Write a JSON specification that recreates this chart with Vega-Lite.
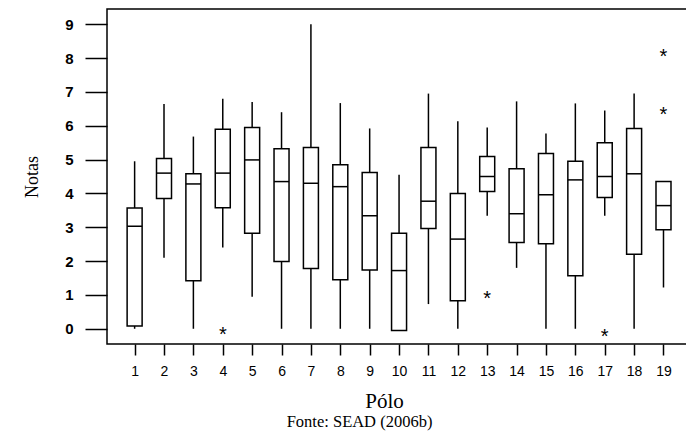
{
  "$schema": "https://vega.github.io/schema/vega-lite/v6.json",
  "width": 585,
  "height": 335,
  "autosize": {"type": "none"},
  "padding": {"left": 107, "top": 9, "right": 0, "bottom": 90},
  "background": "white",
  "config": {
    "view": {"stroke": "black", "strokeWidth": 1.5},
    "axis": {"domain": false, "grid": false, "labelOverlap": false, "labelFlush": false, "tickWidth": 1.5, "tickColor": "black", "labelColor": "black", "titleColor": "black", "labelFont": "Liberation Sans", "titleFont": "Liberation Serif", "titleFontWeight": "normal"},
    "axisX": {"tickSize": 11, "labelPadding": 9, "labelFontSize": 14, "titleFontSize": 21, "titlePadding": 12, "titleX": 277},
    "axisY": {"tickSize": 22, "labelPadding": 12, "labelFontSize": 15, "labelFontWeight": "bold", "titleFontSize": 18, "titlePadding": 23}
  },
  "title": {
    "text": "Fonte: SEAD (2006b)",
    "orient": "bottom",
    "font": "Liberation Serif",
    "fontSize": 16.5,
    "fontWeight": "normal",
    "color": "black",
    "anchor": "start",
    "dx": 263,
    "offset": 3
  },
  "datasets": {
    "boxes": [
      {"polo": 1, "min": 0, "q1": 0.08, "median": 3.03, "q3": 3.57, "max": 4.95},
      {"polo": 2, "min": 2.1, "q1": 3.85, "median": 4.6, "q3": 5.03, "max": 6.64},
      {"polo": 3, "min": 0, "q1": 1.42, "median": 4.28, "q3": 4.58, "max": 5.68},
      {"polo": 4, "min": 2.4, "q1": 3.58, "median": 4.6, "q3": 5.9, "max": 6.8},
      {"polo": 5, "min": 0.95, "q1": 2.82, "median": 4.99, "q3": 5.95, "max": 6.7},
      {"polo": 6, "min": 0, "q1": 1.99, "median": 4.35, "q3": 5.32, "max": 6.4},
      {"polo": 7, "min": 0, "q1": 1.78, "median": 4.3, "q3": 5.36, "max": 9.0},
      {"polo": 8, "min": 0, "q1": 1.45, "median": 4.2, "q3": 4.85, "max": 6.67},
      {"polo": 9, "min": 0, "q1": 1.74, "median": 3.34, "q3": 4.62, "max": 5.92},
      {"polo": 10, "min": -0.05, "q1": -0.05, "median": 1.72, "q3": 2.82, "max": 4.55},
      {"polo": 11, "min": 0.73, "q1": 2.96, "median": 3.77, "q3": 5.36, "max": 6.95},
      {"polo": 12, "min": 0, "q1": 0.83, "median": 2.65, "q3": 4.0, "max": 6.13},
      {"polo": 13, "min": 3.34, "q1": 4.06, "median": 4.5, "q3": 5.09, "max": 5.95},
      {"polo": 14, "min": 1.8, "q1": 2.55, "median": 3.4, "q3": 4.73, "max": 6.72},
      {"polo": 15, "min": 0, "q1": 2.51, "median": 3.96, "q3": 5.18, "max": 5.77},
      {"polo": 16, "min": 0, "q1": 1.57, "median": 4.4, "q3": 4.95, "max": 6.66},
      {"polo": 17, "min": 3.34, "q1": 3.88, "median": 4.5, "q3": 5.5, "max": 6.45},
      {"polo": 18, "min": 0, "q1": 2.2, "median": 4.58, "q3": 5.92, "max": 6.95},
      {"polo": 19, "min": 1.22, "q1": 2.93, "median": 3.64, "q3": 4.35, "max": 4.35}
    ],
    "outliers": [
      {"polo": 4, "nota": -0.05},
      {"polo": 13, "nota": 1.03},
      {"polo": 17, "nota": -0.1},
      {"polo": 19, "nota": 8.17},
      {"polo": 19, "nota": 6.48}
    ]
  },
  "layer": [
    {
      "data": {"name": "boxes"},
      "mark": {"type": "rule", "color": "black", "strokeWidth": 1.5},
      "encoding": {
        "x": {"field": "polo", "type": "quantitative", "scale": {"domain": [0.23, 19.8], "nice": false, "zero": false},
          "axis": {"values": [1,2,3,4,5,6,7,8,9,10,11,12,13,14,15,16,17,18,19], "format": "d", "title": "Pólo"}},
        "y": {"field": "min", "type": "quantitative", "scale": {"domain": [-0.45, 9.45], "nice": false, "zero": false},
          "axis": {"values": [0,1,2,3,4,5,6,7,8,9], "format": "d", "title": "Notas"}},
        "y2": {"field": "max"}
      }
    },
    {
      "data": {"name": "boxes"},
      "mark": {"type": "bar", "size": 15, "fill": "white", "stroke": "black", "strokeWidth": 1.5},
      "encoding": {
        "x": {"field": "polo", "type": "quantitative",
          "axis": {"values": [1,2,3,4,5,6,7,8,9,10,11,12,13,14,15,16,17,18,19], "format": "d", "title": "Pólo"}},
        "y": {"field": "q1", "type": "quantitative",
          "axis": {"values": [0,1,2,3,4,5,6,7,8,9], "format": "d", "title": "Notas"}},
        "y2": {"field": "q3"}
      }
    },
    {
      "data": {"name": "boxes"},
      "mark": {"type": "tick", "orient": "horizontal", "size": 15, "thickness": 1.5, "color": "black", "opacity": 1},
      "encoding": {
        "x": {"field": "polo", "type": "quantitative",
          "axis": {"values": [1,2,3,4,5,6,7,8,9,10,11,12,13,14,15,16,17,18,19], "format": "d", "title": "Pólo"}},
        "y": {"field": "median", "type": "quantitative",
          "axis": {"values": [0,1,2,3,4,5,6,7,8,9], "format": "d", "title": "Notas"}}
      }
    },
    {
      "data": {"name": "outliers"},
      "mark": {"type": "text", "text": "*", "font": "Liberation Sans", "fontSize": 20, "color": "black", "baseline": "middle", "dy": 5},
      "encoding": {
        "x": {"field": "polo", "type": "quantitative",
          "axis": {"values": [1,2,3,4,5,6,7,8,9,10,11,12,13,14,15,16,17,18,19], "format": "d", "title": "Pólo"}},
        "y": {"field": "nota", "type": "quantitative",
          "axis": {"values": [0,1,2,3,4,5,6,7,8,9], "format": "d", "title": "Notas"}}
      }
    }
  ]
}
